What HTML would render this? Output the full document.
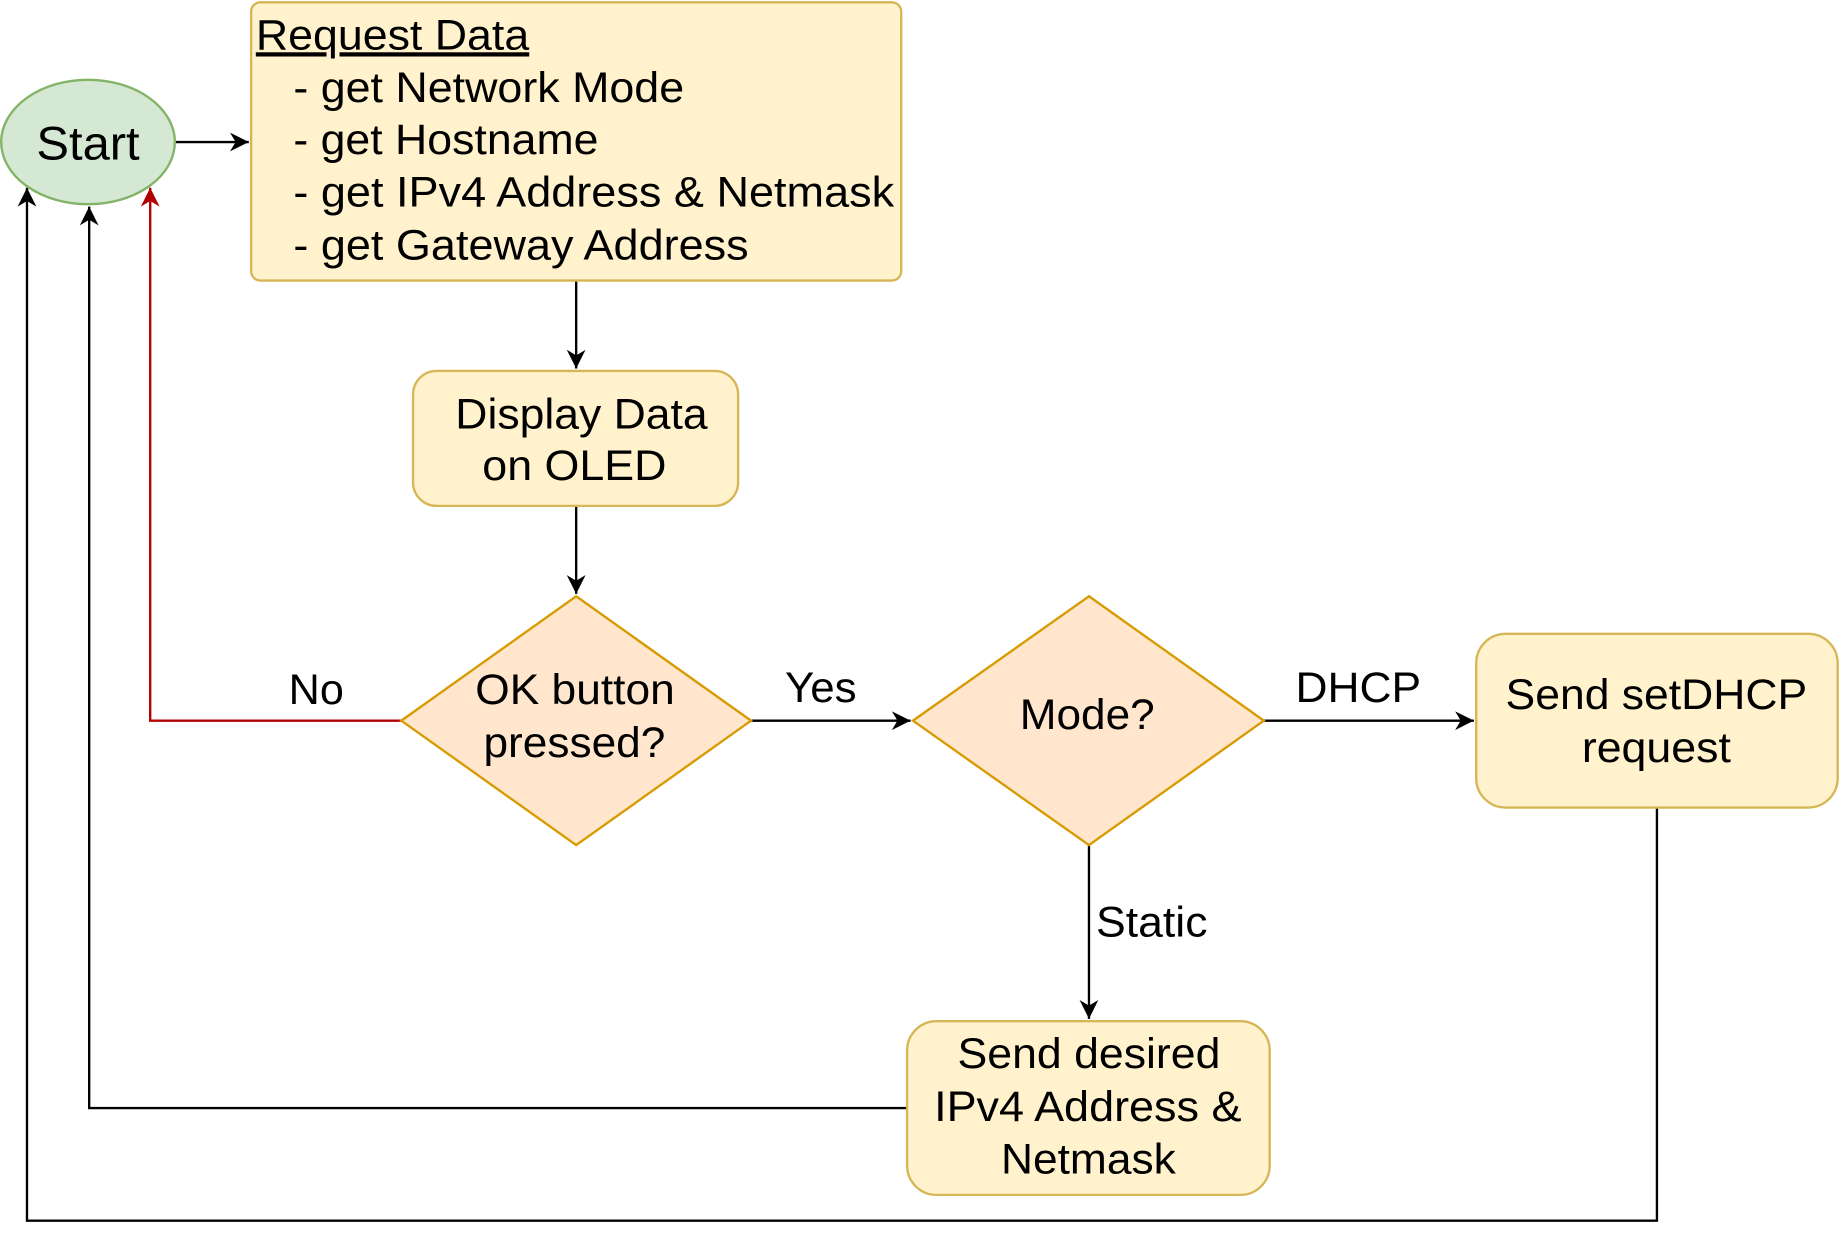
<!DOCTYPE html>
<html><head><meta charset="utf-8"><style>
html,body{margin:0;padding:0;background:#fff;}
svg{display:block;}
text{font-family:"Liberation Sans",Arial,sans-serif;font-size:36px;fill:#000;}
</style></head><body>
<svg width="1840" height="1243" viewBox="0 0 1568 1059" preserveAspectRatio="none" xmlns="http://www.w3.org/2000/svg">
<defs>
<marker id="a" viewBox="0 0 10 10" refX="10" refY="5" markerWidth="18" markerHeight="16" markerUnits="userSpaceOnUse" orient="auto"><path d="M0,0 L10,5 L0,10 L3,5 Z" fill="#000"/></marker>
<marker id="r" viewBox="0 0 10 10" refX="10" refY="5" markerWidth="18" markerHeight="16" markerUnits="userSpaceOnUse" orient="auto"><path d="M0,0 L10,5 L0,10 L3,5 Z" fill="#b20000"/></marker>
</defs>
<g stroke-width="2" fill="none">
<path d="M150,121 L212,121" stroke="#000" marker-end="url(#a)"/>
<path d="M491,239 L491,314" stroke="#000" marker-end="url(#a)"/>
<path d="M491,431 L491,506" stroke="#000" marker-end="url(#a)"/>
<path d="M342,614 L128,614 L128,160" stroke="#b20000" marker-end="url(#r)"/>
<path d="M640,614 L776,614" stroke="#000" marker-end="url(#a)"/>
<path d="M1077,614 L1256,614" stroke="#000" marker-end="url(#a)"/>
<path d="M928,720 L928,868" stroke="#000" marker-end="url(#a)"/>
<path d="M773,944 L76,944 L76,176" stroke="#000" marker-end="url(#a)"/>
<path d="M1412,688 L1412,1040 L23,1040 L23,160" stroke="#000" marker-end="url(#a)"/>
</g>
<ellipse cx="75" cy="121" rx="74" ry="53" fill="#d5e8d4" stroke="#82b366" stroke-width="2"/>
<text x="31" y="136" textLength="88" lengthAdjust="spacingAndGlyphs" style="font-size:40px">Start</text>
<rect x="214" y="2" width="554" height="237" rx="8" fill="#fff2cc" stroke="#d6b656" stroke-width="2"/>
<text x="218" y="42" text-decoration="underline" textLength="233" lengthAdjust="spacingAndGlyphs">Request Data</text>
<text x="250" y="87" textLength="333" lengthAdjust="spacingAndGlyphs">- get Network Mode</text>
<text x="250" y="131" textLength="260" lengthAdjust="spacingAndGlyphs">- get Hostname</text>
<text x="250" y="176" textLength="512" lengthAdjust="spacingAndGlyphs">- get IPv4 Address &amp; Netmask</text>
<text x="250" y="221" textLength="388" lengthAdjust="spacingAndGlyphs">- get Gateway Address</text>
<rect x="352" y="316" width="277" height="115" rx="20" fill="#fff2cc" stroke="#d6b656" stroke-width="2"/>
<text x="388" y="365" textLength="215" lengthAdjust="spacingAndGlyphs">Display Data</text>
<text x="411" y="409" textLength="157" lengthAdjust="spacingAndGlyphs">on OLED</text>
<path d="M491,508 L640,614 L491,720 L342,614 Z" fill="#ffe6cc" stroke="#d79b00" stroke-width="2"/>
<text x="405" y="600" textLength="170" lengthAdjust="spacingAndGlyphs">OK button</text>
<text x="412" y="645" textLength="155" lengthAdjust="spacingAndGlyphs">pressed?</text>
<path d="M928,508 L1077,614 L928,720 L778,614 Z" fill="#ffe6cc" stroke="#d79b00" stroke-width="2"/>
<text x="869" y="621" textLength="115" lengthAdjust="spacingAndGlyphs">Mode?</text>
<rect x="1258" y="540" width="308" height="148" rx="25" fill="#fff2cc" stroke="#d6b656" stroke-width="2"/>
<text x="1283" y="604" textLength="257" lengthAdjust="spacingAndGlyphs">Send setDHCP</text>
<text x="1348" y="649" textLength="127" lengthAdjust="spacingAndGlyphs">request</text>
<rect x="773" y="870" width="309" height="148" rx="25" fill="#fff2cc" stroke="#d6b656" stroke-width="2"/>
<text x="816" y="910" textLength="224" lengthAdjust="spacingAndGlyphs">Send desired</text>
<text x="796" y="955" textLength="262" lengthAdjust="spacingAndGlyphs">IPv4 Address &amp;</text>
<text x="853" y="1000" textLength="149" lengthAdjust="spacingAndGlyphs">Netmask</text>
<text x="246" y="600" textLength="47" lengthAdjust="spacingAndGlyphs">No</text>
<text x="669" y="598" textLength="61" lengthAdjust="spacingAndGlyphs">Yes</text>
<text x="1104" y="598" textLength="107" lengthAdjust="spacingAndGlyphs">DHCP</text>
<text x="934" y="798" textLength="95" lengthAdjust="spacingAndGlyphs">Static</text>
</svg>
</body></html>
